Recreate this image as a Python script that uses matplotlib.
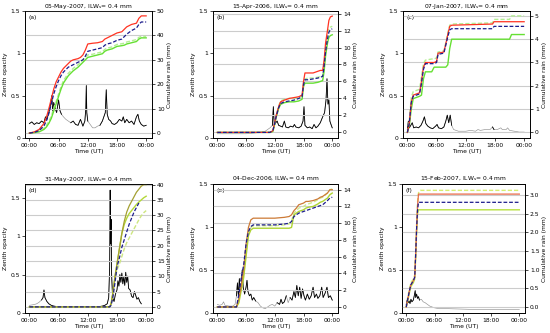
import numpy as np
import matplotlib
matplotlib.use('Agg')
import matplotlib.pyplot as plt
from matplotlib.ticker import FixedLocator, FormatStrFormatter

plt.rcParams['font.family'] = 'DejaVu Sans'
plt.rcParams['font.size'] = 4.3

# ---- data ----
titles = ['05-May-2007', '15-Apr-2006', '07-Jan-2007',
          '31-May-2007', '04-Dec-2006', '15-Feb-2007']
letters = ['(a)', '(b)', '(c)', '(d)', '(e)', '(f)']

# cumulative rain (mm): time (h), then four model series
t_a = [0, 1, 2, 3, 3.5, 4, 4.5, 5, 5.5, 6, 6.5, 7, 7.5, 8, 8.5, 9, 10, 10.5, 11, 11.5, 12,
       13, 14, 15, 15.5, 16, 17, 18, 19, 19.5, 20, 21, 22, 22.5, 23, 24]
red_a = [0, 0.5, 1.5, 4, 6.5, 10, 14, 18, 21, 23, 25, 26.5, 27.5, 28.5, 29.5, 30, 30.5, 31, 32, 34,
         36.5, 36.8, 37, 37.5, 38.5, 39, 40, 41, 41.5, 42.5, 43.5, 44.5, 45, 47, 48, 48]
navy_a = [0, 0.3, 1, 3, 5, 8, 12, 16, 19, 21.5, 23.5, 25, 26, 27, 27.5, 28, 29, 29.5, 30, 31.5,
          33.5, 34, 34.5, 35, 36, 36.5, 37, 38, 38.5, 39.5, 40.5, 42, 43, 44.5, 45.5, 45.5]
green_a = [0, 0.2, 0.5, 1.5, 2.5, 4, 6, 9, 12, 15, 18, 20.5, 22, 23.5, 24.5, 25.5, 27, 28, 29, 30,
           31, 31.5, 32, 32.5, 33.5, 34, 34.5, 35.5, 35.8, 36, 36.5, 37, 37.5, 38.5, 39, 39]
light_a = [0, 0.4, 0.9, 2, 3.2, 4.8, 7, 10, 13, 16, 19, 21.5, 23, 24.5, 25.5, 26.5, 28, 29, 30, 31,
           32, 32.3, 32.8, 33.3, 34.3, 34.8, 35.3, 36.3, 36.6, 36.8, 37.3, 37.8, 38.3, 39.2, 39.6, 39.6]

t_b = [0, 11, 11.6, 12, 12.3, 12.8, 13.2, 14, 15, 16, 17, 17.7, 18, 18.3, 19, 20, 21, 21.5, 22,
       22.3, 22.6, 23, 23.3, 23.6, 24]
red_b = [0, 0, 0.2, 1.2, 2, 3.0, 3.6, 3.8, 4.0, 4.1, 4.2, 4.4, 6.0, 7.0, 7.0, 7.0, 7.2, 7.3, 7.3,
         8.5, 10.5, 12.0, 13.2, 13.6, 13.7]
navy_b = [0, 0, 0.2, 1.1, 1.9, 2.9, 3.4, 3.6, 3.7, 3.8, 4.0, 4.2, 5.6, 6.2, 6.2, 6.3, 6.4, 6.5, 6.6,
          7.8, 9.5, 11, 11.8, 12.1, 12.2]
green_b = [0, 0, 0.1, 1.0, 1.8, 2.8, 3.3, 3.5, 3.6, 3.6, 3.7, 3.9, 5.4, 5.8, 5.8, 5.8, 5.9, 6.0, 6.1,
           7.2, 9, 10.5, 11.2, 11.4, 11.5]
light_b = [0, 0, 0.2, 1.1, 2.0, 3.1, 3.7, 3.9, 4.0, 4.0, 4.1, 4.3, 5.8, 6.3, 6.4, 6.4, 6.5, 6.6, 6.7,
           8.0, 10, 11.5, 12.2, 12.4, 12.5]

t_c = [0, 0.4, 0.8, 1.2, 2.5, 2.9, 3.3, 3.7, 5, 5.5, 6, 6.3, 7.5, 7.9, 8.3, 8.7, 9.1, 17.5, 17.8,
       21, 21.4, 24]
red_c = [0, 0.4, 1.3, 1.6, 1.7, 2.2, 2.8, 3.0, 3.0, 3.0, 3.05, 3.4, 3.45, 3.8, 4.2, 4.55, 4.6, 4.65,
         4.75, 4.75, 4.75, 4.75]
navy_c = [0, 0.4, 1.3, 1.55, 1.65, 2.1, 2.7, 2.95, 2.95, 2.95, 3.0, 3.35, 3.4, 3.75, 4.1, 4.4, 4.45,
          4.45, 4.55, 4.55, 4.55, 4.55]
green_c = [0, 0.3, 1.0, 1.45, 1.55, 1.6, 2.3, 2.6, 2.6, 2.8, 2.8, 2.8, 2.8, 2.8, 2.9, 3.6, 4.0, 4.0,
           4.0, 4.0, 4.2, 4.2]
light_c = [0, 0.5, 1.5, 1.75, 1.85, 2.4, 2.95, 3.1, 3.15, 3.15, 3.2, 3.45, 3.5, 3.85, 4.25, 4.6,
           4.65, 4.7, 4.85, 4.85, 5.0, 5.0]

t_d = [0, 16.5, 16.8, 17.2, 17.6, 18, 18.5, 19, 19.5, 20, 20.5, 21, 21.5, 22, 22.5, 23, 23.5, 24]
red_d = [0, 0, 1, 5, 10, 14, 19, 24, 28, 31, 33, 34.5, 36, 37.5, 38.5, 39.5, 40, 40]
navy_d = [0, 0, 0.5, 3.5, 8, 13, 16, 19.5, 22, 24.5, 27, 29, 31, 32.5, 34, np.nan, np.nan, np.nan]
green_d = [0, 0, 1, 5, 10, 14, 19, 24, 27, 29, 30.5, 31.5, 32.5, 33.5, 34.3, 35, 35.7, 36.2]
light_d = [0, 0, 1, 5, 9, 12, 14, 16.5, 19, 21, 22.5, 24, 25.5, 27, 28.5, 29.8, 30.8, 31.5]

t_e = [0, 4, 4.5, 5, 5.5, 6, 6.5, 7, 7.5, 8, 10, 12, 14, 15, 15.5, 16, 16.5, 17, 18, 18.5, 19, 20,
       21, 21.5, 22, 23, 23.5, 24]
red_e = [0, 0, 1, 2.5, 4.5, 7.5, 9.5, 10.4, 10.6, 10.6, 10.6, 10.6, 10.7, 10.8, 11, 11.5, 11.8,
         12.2, 12.4, 12.6, 12.6, 12.7, 12.9, 13.1, 13.2, 13.6, 14, 14]
navy_e = [0, 0, 1.5, 3.5, 5, 7.5, 9, 9.6, 9.8, 9.8, 9.8, 9.8, 9.9, 10, 10.2, 10.8, 11, 11.2, 11.4,
          11.5, 11.6, 11.8, 12, 12.1, 12.2, 12.7, 13, 13.1]
green_e = [0, 0, 0.5, 2, 3.5, 6, 8.5, 9.2, 9.4, 9.4, 9.4, 9.4, 9.4, 9.4, 9.5, 11, 11.2, 11.4, 11.6,
           11.8, 11.9, 12, 12.3, 12.5, 12.6, 13, 13.4, 13.6]
light_e = [0, 0, 0.8, 2.3, 4, 6.5, 9, 9.5, 9.7, 9.7, 9.7, 9.7, 9.8, 9.9, 10.3, 11.2, 11.5, 11.8, 12,
           12.2, 12.3, 12.5, 12.8, 13, 13.1, 13.6, 14, 14.1]

t_f = [0, 0.3, 0.7, 1, 1.5, 1.8, 2.0, 2.2, 2.4, 2.6, 2.8, 3.0, 24]
red_f = [0, 0.2, 0.45, 0.6, 0.7, 0.8, 1.4, 2.1, 2.7, 3.02, 3.02, 3.02, 3.02]
navy_f = [0, 0.2, 0.45, 0.6, 0.7, 0.8, 1.4, 2.1, 2.6, 2.8, 2.8, 2.8, 2.8]
green_f = [0, 0.15, 0.4, 0.55, 0.65, 0.75, 1.3, 2.0, 2.5, 2.6, 2.6, 2.6, 2.6]
light_f = [0, 0.25, 0.5, 0.65, 0.75, 0.85, 1.5, 2.2, 2.8, 3.05, 3.1, 3.12, 3.12]

# zenith opacity (time h, opacity)
op_a = [(0, .17), (.5, .19), (1, .16), (1.5, .18), (2, .17), (2.5, .2), (3, .18), (3.3, .25),
        (3.6, .22), (4, .3), (4.3, .38), (4.6, .5), (4.8, .3), (5, .42), (5.3, .35), (5.6, .3),
        (6, .45), (6.3, .32), (6.6, .28), (7, .25), (7.5, .22), (8, .2), (8.5, .18), (9, .2),
        (9.5, .16), (10, .15), (10.5, .22), (11, .14), (11.4, .2), (11.6, .35), (11.7, .62),
        (11.8, .3), (12, .2), (12.5, .16), (13, .12), (13.5, .12), (14, .14), (14.5, .15),
        (15, .2), (15.3, .25), (15.6, .3), (15.8, .57), (16, .28), (16.3, .22), (16.7, .2),
        (17, .17), (17.5, .16), (18, .18), (18.5, .22), (19, .2), (19.3, .25), (19.6, .18),
        (20, .22), (20.5, .18), (21, .2), (21.5, .16), (22, .25), (22.3, .28), (22.6, .2),
        (23, .16), (23.5, .14), (24, .15)]
op_b = [(0, .05), (3, .05), (6, .05), (8, .06), (9, .07), (10, .08), (11, .12), (11.5, .15),
        (11.7, .37), (11.9, .15), (12.2, .18), (12.5, .2), (12.8, .15), (13.2, .14), (13.6, .13),
        (14, .2), (14.3, .13), (14.8, .12), (15.3, .14), (15.8, .13), (16.1, .16), (16.4, .13),
        (17, .12), (17.5, .14), (17.9, .2), (18.1, .37), (18.3, .15), (18.8, .12), (19.3, .13),
        (19.8, .11), (20.2, .16), (20.6, .12), (21, .14), (21.5, .18), (22, .25), (22.4, .3),
        (22.7, .45), (22.9, .7), (23.1, .4), (23.3, .45), (23.5, .2), (23.8, .15), (24, .12)]
op_c = [(0, .1), (.2, .2), (.4, .12), (.7, .15), (1, .18), (1.3, .12), (1.8, .13), (2.3, .12),
        (2.8, .15), (3.2, .2), (3.5, .25), (3.8, .17), (4.2, .14), (4.7, .12), (5.2, .11),
        (5.8, .14), (6.1, .16), (6.4, .12), (7, .11), (7.5, .13), (7.9, .2), (8.2, .27),
        (8.5, .18), (8.8, .27), (9.1, .15), (9.5, .1), (10.5, .08), (12, .08), (13, .09),
        (14, .08), (14.5, .1), (15, .09), (16, .1), (17, .1), (17.5, .13), (17.8, .1),
        (18.5, .1), (19.2, .12), (19.5, .1), (20.3, .1), (20.6, .12), (21, .09), (22, .08),
        (23, .07), (24, .07)]
op_d = [(0, .1), (1, .11), (1.5, .12), (2, .14), (2.5, .17), (2.8, .2), (3, .3), (3.2, .2),
        (3.6, .15), (4, .12), (4.5, .1), (5, .09), (6, .08), (8, .08), (10, .08), (12, .08),
        (14, .08), (15, .09), (15.5, .1), (16, .12), (16.3, .2), (16.5, .6), (16.6, 1.6),
        (16.7, .9), (16.8, 1.22), (16.9, .5), (17.1, .2), (17.4, .15), (17.7, .25), (18, .3),
        (18.2, .42), (18.4, .35), (18.6, .5), (18.8, .4), (19, .52), (19.2, .38), (19.4, .47),
        (19.6, .36), (19.8, .53), (20, .4), (20.2, .48), (20.4, .32), (20.7, .3), (21, .22),
        (21.3, .2), (21.6, .28), (21.8, .24), (22.1, .18), (22.4, .2), (22.7, .15), (23, .12)]
op_e = [(0, .1), (.5, .09), (1, .1), (1.3, .13), (1.6, .09), (2.5, .08), (3.2, .08), (3.7, .1),
        (4, .2), (4.2, .35), (4.4, .2), (4.6, .4), (4.8, .25), (5, .3), (5.2, .5), (5.4, .3),
        (5.7, .22), (6, .3), (6.2, .38), (6.4, .25), (6.7, .2), (7, .22), (7.3, .15), (7.6, .18),
        (8, .14), (8.5, .12), (9, .08), (9.5, .06), (10, .05), (10.5, .07), (11, .09), (11.5, .1),
        (12, .08), (12.5, .12), (13, .1), (13.3, .16), (13.6, .11), (14, .13), (14.4, .2),
        (14.8, .12), (15.2, .18), (15.6, .15), (16, .25), (16.3, .18), (16.6, .32), (16.9, .2),
        (17.2, .3), (17.5, .17), (17.8, .28), (18.1, .2), (18.4, .15), (18.8, .22), (19.2, .16),
        (19.6, .2), (20, .3), (20.3, .18), (20.7, .22), (21, .17), (21.4, .2), (21.8, .3),
        (22.1, .18), (22.5, .23), (22.9, .3), (23.2, .18), (23.6, .2), (24, .15)]
op_f = [(0, .1), (.2, .15), (.4, .12), (.6, .14), (.8, .11), (1, .16), (1.2, .13), (1.5, .15),
        (1.7, .2), (1.9, .26), (2.0, .18), (2.2, .22), (2.4, .17), (2.6, .19), (2.8, .15),
        (3.2, .16), (3.6, .13), (4, .12), (4.5, .1), (5, .08), (6, .06), (7, .05), (9, .05),
        (12, .045), (15, .04), (18, .04), (24, .04)]

# periods flagged as raining (opacity drawn black)
wet_a = [(0, 6.8), (8.2, 12.3), (14.3, 24)]
wet_b = [(11.4, 24)]
wet_c = [(0, 9.2), (17.3, 17.9)]
wet_d = [(2.5, 3.6), (4, 16), (16.3, 23)]
wet_e = [(3.8, 8), (12.3, 14.6), (15, 24)]
wet_f = [(0, 2.8)]

rain_t = [t_a, t_b, t_c, t_d, t_e, t_f]
rain_red = [red_a, red_b, red_c, red_d, red_e, red_f]
rain_navy = [navy_a, navy_b, navy_c, navy_d, navy_e, navy_f]
rain_green = [green_a, green_b, green_c, green_d, green_e, green_f]
rain_light = [light_a, light_b, light_c, light_d, light_e, light_f]
opac = [op_a, op_b, op_c, op_d, op_e, op_f]
wets = [wet_a, wet_b, wet_c, wet_d, wet_e, wet_f]

right_ticks = [np.arange(0, 51, 10), np.arange(0, 15, 2), np.arange(0, 6, 1),
               np.arange(0, 41, 5), np.arange(0, 15, 2), np.arange(0, 3.01, 0.5)]
right_lims = [(-2, 50), (-0.66, 14.3), (-0.24, 5.21), (-2, 40.2), (-0.72, 14.68), (-0.16, 3.29)]
left_lims = [(0, 1.5), (0, 1.5), (0, 1.5), (0, 1.68), (0, 1.5), (0, 1.5)]

top_col = ['#ff3322', '#ff3322', '#ff3322', '#a4a032', '#cc7a36', '#e86a48']
green_col = ['#66e033', '#66e033', '#66e033', '#b4d838', '#aed432', '#b8e040']
light_col = ['#b4ee94', '#b4ee94', '#b4ee94', '#cde680', '#d0ea8c', '#d6ee70']
navy = '#1c1c8c'

# axes rectangles in pixels (left, right, top, bottom) on a 550x333 canvas
boxes = [(25, 152, 11, 138), (213, 338, 11, 138), (403, 530, 11, 138),
         (25, 152, 184, 313), (213, 338, 184, 313), (402, 525, 184, 313)]

fig = plt.figure(figsize=(5.5, 3.33), dpi=100)

for i in range(6):
    l, r, tp, bt = boxes[i]
    ax = fig.add_axes([l / 550, 1 - bt / 333, (r - l) / 550, (bt - tp) / 333])
    ax2 = ax.twinx()

    # rain on right axis, with grid
    t = np.array(rain_t[i], dtype=float)
    ax2.plot(t, rain_light[i], color=light_col[i], lw=1.0, ls=(0, (3, 1.5)))
    ax2.plot(t, rain_green[i], color=green_col[i], lw=1.0)
    ax2.plot(t, rain_red[i], color=top_col[i], lw=0.9)
    ax2.plot(t, rain_navy[i], color=navy, lw=0.9, ls=(0, (3, 1.5)))
    ax2.set_ylim(*right_lims[i])
    ax2.yaxis.set_major_locator(FixedLocator(right_ticks[i]))
    if i == 5:
        ax2.yaxis.set_major_formatter(FormatStrFormatter('%.1f'))
    else:
        ax2.yaxis.set_major_formatter(FormatStrFormatter('%g'))
    ax2.grid(axis='y', color='#cccccc', lw=0.8)
    ax2.set_ylabel('Cumulative rain (mm)', fontsize=4.3, labelpad=2)

    # opacity on left axis: grey everywhere, black while raining
    to, tau = np.array(opac[i]).T
    ax.plot(to, tau, color='#909090', lw=0.45)
    wet = np.zeros(len(to), dtype=bool)
    for s, e in wets[i]:
        wet |= (to >= s) & (to <= e)
    ax.plot(to, np.where(wet, tau, np.nan), color='black', lw=0.6)
    ax.set_ylim(*left_lims[i])
    ax.set_yticks([0, 0.5, 1, 1.5])
    ax.set_yticklabels(['0', '0.5', '1', '1.5'])
    ax.set_ylabel('Zenith opacity', fontsize=4.3, labelpad=2)

    ax.set_xlim(-0.9, 25.2)
    ax.set_xticks([0, 6, 12, 18, 24])
    ax.set_xticklabels(['00:00', '06:00', '12:00', '18:00', '00:00'])
    ax.set_xlabel('Time (UT)', fontsize=4.3, labelpad=1)
    ax.set_title(titles[i] + r', ILW$_\mathrm{s}$= 0.4 mm', fontsize=4.3, pad=2.5)
    ax.text(0.03, 0.97, letters[i], transform=ax.transAxes, ha='left', va='top', fontsize=4.3)

    for a in (ax, ax2):
        a.tick_params(labelsize=4.3, length=2, width=0.5, pad=1.5)
        for sp in a.spines.values():
            sp.set_linewidth(0.6)

fig.savefig('out.png', dpi=100)
